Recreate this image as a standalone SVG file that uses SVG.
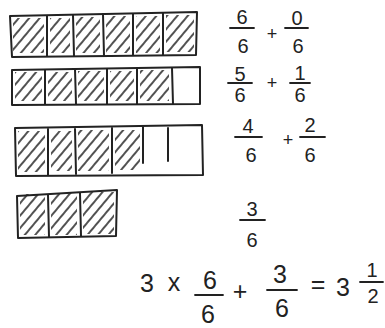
<svg xmlns="http://www.w3.org/2000/svg" width="385" height="328" viewBox="0 0 385 328">
<style>
.b{fill:none;stroke:#222;stroke-width:2;stroke-linejoin:round;stroke-linecap:round}
.h{fill:url(#hatch)}
.t{font-family:"Liberation Sans",Arial,sans-serif;fill:#222;text-anchor:middle}
.s{font-size:20px}
.p{font-size:18px}
.L{font-size:25px}
.f{stroke:#222;stroke-width:1.8;stroke-linecap:round}
</style>
<defs>
<pattern id="hatch" width="8" height="8" patternUnits="userSpaceOnUse" patternTransform="rotate(40)">
<line x1="2" y1="0" x2="2" y2="8" stroke="#333" stroke-width="1.7"/>
</pattern>
</defs>
<rect width="385" height="328" fill="#fff"/>
<g id="bar1">
<rect class="h" x="13" y="18" width="31" height="35"/>
<rect class="h" x="50" y="18" width="20" height="35"/>
<rect class="h" x="76" y="17" width="24" height="36"/>
<rect class="h" x="106" y="16" width="24" height="37"/>
<rect class="h" x="136" y="16" width="24" height="37"/>
<rect class="h" x="166" y="15" width="28" height="37"/>
<path class="b" d="M10,16 L105,14 L197,12 L196,55 L110,56 L12,57 Z"/>
<path class="b" d="M47,16 L47,56 M73,15 L74,56 M103,14 L104,56 M133,14 L133,55 M163,13 L163,55"/>
</g>
<g id="bar2">
<rect class="h" x="15" y="72" width="27" height="29"/>
<rect class="h" x="48" y="72" width="24" height="29"/>
<rect class="h" x="78" y="71" width="26" height="30"/>
<rect class="h" x="110" y="71" width="24" height="30"/>
<rect class="h" x="140" y="70" width="29" height="31"/>
<path class="b" d="M12,70 L200,67 L200,104 L12,105 Z"/>
<path class="b" d="M45,70 L45,104 M75,69 L76,104 M107,69 L107,104 M137,68 L137,104 M172,68 L173,104"/>
</g>
<g id="bar3">
<rect class="h" x="18" y="131" width="27" height="41"/>
<rect class="h" x="51" y="131" width="21" height="40"/>
<rect class="h" x="78" y="130" width="31" height="41"/>
<rect class="h" x="115" y="130" width="25" height="40"/>
<path class="b" d="M15,128 L202,125 L203,175 L16,176 Z"/>
<path class="b" d="M48,129 L48,175 M75,129 L76,174 M112,128 L112,173 M143,127 L143,163 M168,128 L168,161"/>
</g>
<g id="bar4">
<rect class="h" x="20" y="194" width="25" height="41"/>
<rect class="h" x="51" y="193" width="26" height="42"/>
<rect class="h" x="83" y="192" width="31" height="42"/>
<path class="b" d="M17,196 L117,190 L116,236 L18,238 Z"/>
<path class="b" d="M48,195 L49,237 M80,193 L81,236"/>
</g>
<g id="row1">
<text class="t s" x="242" y="24">6</text>
<line class="f" x1="230" y1="28" x2="254" y2="28"/>
<text class="t s" x="243" y="53">6</text>
<text class="t p" x="272" y="40">+</text>
<text class="t s" x="297" y="25">0</text>
<line class="f" x1="285" y1="28" x2="308" y2="28"/>
<text class="t s" x="298" y="53">6</text>
</g>
<g id="row2">
<text class="t s" x="240" y="81">5</text>
<line class="f" x1="228" y1="83" x2="252" y2="83"/>
<text class="t s" x="240" y="102">6</text>
<text class="t p" x="272" y="89">+</text>
<text class="t s" x="300" y="80">1</text>
<line class="f" x1="290" y1="83" x2="310" y2="83"/>
<text class="t s" x="300" y="102">6</text>
</g>
<g id="row3">
<text class="t s" x="248" y="133">4</text>
<line class="f" x1="235" y1="137" x2="262" y2="137"/>
<text class="t s" x="251" y="162">6</text>
<text class="t p" x="288" y="146">+</text>
<text class="t s" x="310" y="132">2</text>
<line class="f" x1="300" y1="137" x2="325" y2="137"/>
<text class="t s" x="310" y="162">6</text>
</g>
<g id="row4">
<text class="t s" x="252" y="216">3</text>
<line class="f" x1="240" y1="220" x2="265" y2="220"/>
<text class="t s" x="252" y="247">6</text>
</g>
<g id="equation">
<text class="t L" x="147" y="292">3</text>
<text class="t L" x="174" y="291">x</text>
<text class="t L" x="210" y="289">6</text>
<line class="f" x1="195" y1="295" x2="223" y2="295"/>
<text class="t L" x="208" y="323">6</text>
<text class="t L" x="240" y="300">+</text>
<text class="t L" x="280" y="283">3</text>
<line class="f" x1="267" y1="290" x2="297" y2="290"/>
<text class="t L" x="282" y="317">6</text>
<text class="t L" x="318" y="293">=</text>
<text class="t L" x="343" y="296">3</text>
<text class="t s" x="372" y="277">1</text>
<line class="f" x1="360" y1="282" x2="383" y2="282"/>
<text class="t s" x="373" y="303">2</text>
</g>
</svg>
